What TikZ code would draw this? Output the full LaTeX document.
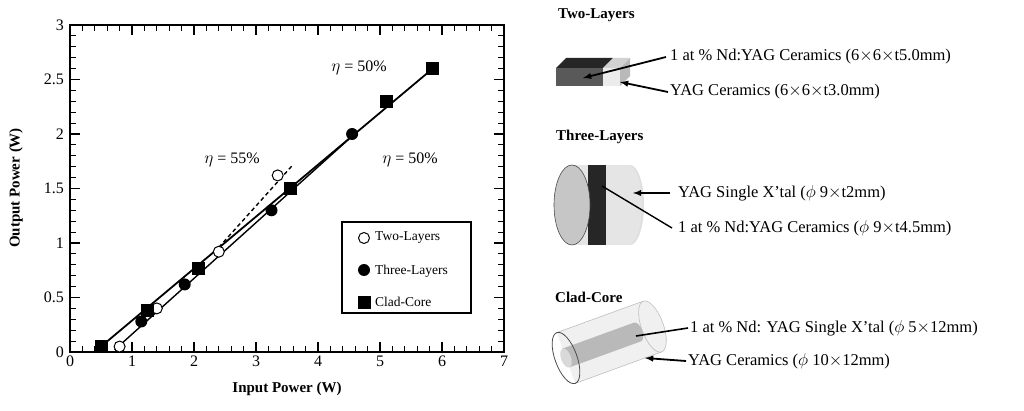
\documentclass[tikz,border=0pt]{standalone}
\usepackage{fontspec}
\setmainfont{Liberation Serif}
\begin{document}
\begin{tikzpicture}[x=1pt,y=-1pt,
  lab/.style={font=\fontsize{16.5}{18}\selectfont,anchor=west,inner sep=0pt},
  ttl/.style={font=\bfseries\fontsize{15}{17}\selectfont,anchor=west,inner sep=0pt},
  tick/.style={font=\fontsize{16}{18}\selectfont,inner sep=1pt},
  ptr/.style={line width=1.8pt,-latex},
  sq/.style={fill=black,minimum size=13pt,inner sep=0pt},
  dot/.style={circle,fill=black,minimum size=12pt,inner sep=0pt},
  odot/.style={circle,draw=black,fill=white,line width=1pt,minimum size=11pt,inner sep=0pt}]
\useasboundingbox (0,0) rectangle (1024,411);
\def\X#1{70+62*#1}
\def\Y#1{352-109*#1}
% frame
\draw[line width=1.6pt] (70,25) rectangle (504,352);
\foreach \i in {0,...,35}{\draw[line width=0.8pt] ({\X{\i*0.2}},352)--({\X{\i*0.2}},346) ({\X{\i*0.2}},25)--({\X{\i*0.2}},31);}
\foreach \i in {0,...,7}{\draw[line width=1.2pt] ({\X{\i}},352)--({\X{\i}},342) ({\X{\i}},25)--({\X{\i}},35);
  \node[tick,anchor=north] (xt\i) at ({\X{\i}},355) {\i};}
\foreach \i in {0,...,30}{\draw[line width=0.8pt] (70,{\Y{\i*0.1}})--(76,{\Y{\i*0.1}}) (504,{\Y{\i*0.1}})--(498,{\Y{\i*0.1}});}
\foreach \v/\t in {0/0,0.5/0.5,1/1,1.5/1.5,2/2,2.5/2.5,3/3}{\draw[line width=1.2pt] (70,{\Y{\v}})--(80,{\Y{\v}}) (504,{\Y{\v}})--(494,{\Y{\v}});
  \node[tick,anchor=east] at (65,{\Y{\v}}) {\t};}
\node[tick,font=\bfseries\fontsize{15}{17}\selectfont] (xl) at (287,389) {Input Power (W)};
\node[tick,font=\bfseries\fontsize{15}{17}\selectfont,rotate=90] (yl) at (16,188) {Output Power (W)};
% lines
\draw[line width=1.8pt] ({\X{0.5}},{\Y{0.05}}) -- ({\X{5.85}},{\Y{2.6}});
\draw[line width=1.4pt] ({\X{0.72}},{\Y{0.02}}) -- ({\X{4.55}},{\Y{1.98}});
\draw[line width=1.4pt,dash pattern=on 4pt off 3pt] ({\X{2.4}},{\Y{0.96}}) -- ({\X{3.6}},{\Y{1.72}});
% data
\foreach \a/\b in {0.8/0.05,1.4/0.4,2.4/0.92,3.35/1.62}{\node[odot] at ({\X{\a}},{\Y{\b}}) {};}
\foreach \a/\b in {1.15/0.28,1.85/0.62,3.25/1.3,4.55/2.0}{\node[dot] at ({\X{\a}},{\Y{\b}}) {};}
\foreach \a/\b in {0.5/0.05,1.25/0.38,2.08/0.77,3.55/1.5,5.1/2.3,5.85/2.6}{\node[sq] at ({\X{\a}},{\Y{\b}}) {};}
\node[tick] (e1) at (359,68) {$\eta$ = 50\%};
\node[tick] (e2) at (232,160) {$\eta$ = 55\%};
\node[tick] (e3) at (410,160) {$\eta$ = 50\%};
% legend
\draw[line width=1.4pt,fill=white] (342,222) rectangle (471,313);
\node[odot] (l1) at (364,238) {}; \node[lab,font=\fontsize{13.5}{15}\selectfont] at (375,238) {Two-Layers};
\node[dot] (l2) at (364,270) {}; \node[lab,font=\fontsize{13.5}{15}\selectfont] at (375,271) {Three-Layers};
\node[sq] (l3) at (364,302) {}; \node[lab,font=\fontsize{13.5}{15}\selectfont] at (375,302) {Clad-Core};
% ---- Two-layers block
\node[ttl] (t1) at (558,15) {Two-Layers};
\fill[gray!70!black] (556,68) rectangle (603,86);
\fill[gray!15] (603,68) rectangle (620,86);
\fill[black!85] (556,68) -- (566,58) -- (613,58) -- (603,68) -- cycle;
\fill[gray!35] (603,68) -- (613,58) -- (630,58) -- (620,68) -- cycle;
\fill[gray!55] (620,68) -- (630,58) -- (630,76) -- (620,86) -- cycle;
\node[lab] (a1) at (670,57) {1 at \% Nd:YAG Ceramics (6$\times$6$\times$t5.0mm)};
\node[lab] (a2) at (670,92) {YAG Ceramics (6$\times$6$\times$t3.0mm)};
\coordinate (p1) at (583,78); \coordinate (p2) at (620,82);
\draw[ptr] ([xshift=-4pt]a1.west) -- (p1);
\draw[ptr] ([xshift=-2pt]a2.west) -- (p2);
% ---- Three-layers
\node[ttl] (t2) at (556,137) {Three-Layers};
\fill[gray!20] (572,165) rectangle (630,245);
\fill[gray!25] (630,205) ellipse (14 and 40);
\fill[black!85] (588,165) rectangle (606,245);
\fill[black!85] (606,205) ellipse (14 and 40);
\fill[gray!20] (606,165) rectangle (628,245);
\fill[gray!20] (628,205) ellipse (14 and 40);
\fill[gray!45] (572,205) ellipse (18 and 40);
\draw[gray!60!black,line width=0.6pt] (572,205) ellipse (18 and 40);
\node[lab] (b1) at (678,193) {YAG Single X'tal ($\phi$ 9$\times$t2mm)};
\node[lab] (b2) at (678,228) {1 at \% Nd:YAG Ceramics ($\phi$ 9$\times$t4.5mm)};
\coordinate (q1) at (633,193); \coordinate (q2) at (602,186);
\draw[ptr] ([xshift=-8pt]b1.west) -- (q1);
\draw[line width=1.4pt] ([xshift=-6pt]b2.west) -- (q2);
% ---- Clad-core
\node[ttl] (t3) at (555,297) {Clad-Core};
\begin{scope}[shift={(566,358)},rotate=20]
  \fill[gray!12] (0,-27) -- (92,-27) arc[start angle=-90,end angle=90,x radius=11,y radius=27] -- (0,27) -- cycle;
  \draw[gray!50,line width=0.6pt] (0,-27) -- (92,-27) (0,27) -- (92,27);
  \draw[gray!50,line width=0.6pt] (92,0) ellipse (11 and 27);
  \fill[gray!55] (0,-10) -- (76,-10) arc[start angle=-90,end angle=90,x radius=5,y radius=10] -- (0,10) -- cycle;
  \fill[gray!30] (0,0) ellipse (5 and 10);
  \draw[gray!60!black,line width=0.8pt] (0,0) ellipse (11 and 27);
\end{scope}
\node[lab] (c1) at (690,328) {1 at \% Nd: YAG Single X'tal ($\phi$ 5$\times$12mm)};
\node[lab] (c2) at (688,361) {YAG Ceramics ($\phi$ 10$\times$12mm)};
\coordinate (r1) at (636,336); \coordinate (r2) at (645,358);
\draw[line width=1.6pt] ([xshift=-2pt]c1.west) -- (r1);
\draw[ptr] ([xshift=-2pt]c2.west) -- (r2);
\end{tikzpicture}
\end{document}
